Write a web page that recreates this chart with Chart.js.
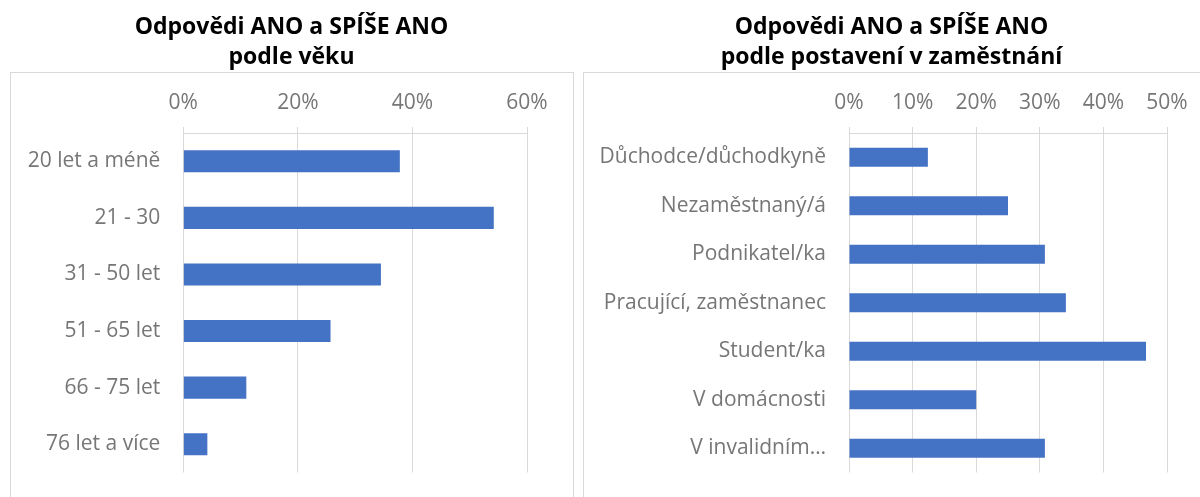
<!DOCTYPE html>
<html lang="cs">
<head>
<meta charset="utf-8">
<title>Odpovědi ANO a SPÍŠE ANO</title>
<script src="https://cdn.jsdelivr.net/npm/chart.js@4/dist/chart.umd.min.js"></script>
<style>
  html,body{margin:0;padding:0;background:#fff;}
  body{width:1200px;height:497px;position:relative;overflow:hidden;}
  .box{position:absolute;top:72px;border:1px solid #d9d9d9;box-sizing:border-box;}
  .wrap{position:absolute;top:0;height:497px;}
</style>
</head>
<body>
<div class="box" style="left:10px;width:564px;height:440px"></div>
<div class="box" style="left:583px;width:630px;height:440px"></div>
<div class="wrap" style="left:10px;width:563px"><canvas id="c-vek"></canvas></div>
<div class="wrap" style="left:583px;width:617px"><canvas id="c-prace"></canvas></div>
<script>
// ---------- data ----------
const VEK_LABELS = ["20 let a méně","21 - 30","31 - 50 let","51 - 65 let","66 - 75 let","76 let a více"];
const VEK_VALUES = [0.378,0.542,0.345,0.257,0.110,0.042];
const VEK_TITLE = ["Odpovědi ANO a SPÍŠE ANO","podle věku"];

const PRACE_LABELS = ["Důchodce/důchodkyně","Nezaměstnaný/á","Podnikatel/ka","Pracující, zaměstnanec","Student/ka","V domácnosti","V invalidním…"];
const PRACE_VALUES = [0.124,0.250,0.308,0.341,0.467,0.200,0.308];
const PRACE_TITLE = ["Odpovědi ANO a SPÍŠE ANO","podle postavení v zaměstnání"];

// ---------- style ----------
Chart.defaults.font.family = "'Open Sans', sans-serif";
Chart.defaults.animation = false;
const GRID = "#d9d9d9", TXT = "#767676", BAR = "#4472c4";
const pct = v => Math.round(v*100)+"%";

// yw = width of label column (left of 0 %), rw = empty space right of the last gridline
function hbar(id,labels,data,title,opt){
  new Chart(document.getElementById(id),{
    type:"bar",
    data:{labels,datasets:[{data,backgroundColor:BAR,borderWidth:0,
      barPercentage:0.39,categoryPercentage:1}]},
    options:{indexAxis:"y",responsive:true,maintainAspectRatio:false,
      layout:{padding:{left:0,right:0,top:0,bottom:24.5}},
      plugins:{legend:{display:false},tooltip:{enabled:false},
        title:{display:true,text:title,color:"#000",
          font:{size:23,weight:"bold",lineHeight:30/23},padding:{top:12,bottom:7}}},
      scales:{
        x:{position:"top",min:0,max:opt.max,
          ticks:{stepSize:opt.step,color:TXT,font:{size:21},padding:11,callback:pct},
          grid:{color:GRID,lineWidth:1,tickLength:6,tickColor:GRID},
          border:{display:true,color:GRID},
          afterFit:s=>{s.height=54;}},
        y:{ticks:{color:TXT,font:{size:21},padding:23,autoSkip:false},
          grid:{display:false,drawTicks:false},
          border:{display:false},
          afterFit:s=>{s.width=opt.yw;s.paddingTop=0;s.paddingBottom=0;}},
        yr:{type:"category",axis:"y",position:"right",
          ticks:{display:false},grid:{display:false,drawTicks:false},border:{display:false},
          afterFit:s=>{s.width=opt.rw;s.paddingTop=0;s.paddingBottom=0;}}
      }}
  });
}

hbar("c-vek",VEK_LABELS,VEK_VALUES,VEK_TITLE,{max:0.6,step:0.2,yw:173.3,rw:46});
hbar("c-prace",PRACE_LABELS,PRACE_VALUES,PRACE_TITLE,{max:0.5,step:0.1,yw:266,rw:33});
</script>
</body>
</html>
